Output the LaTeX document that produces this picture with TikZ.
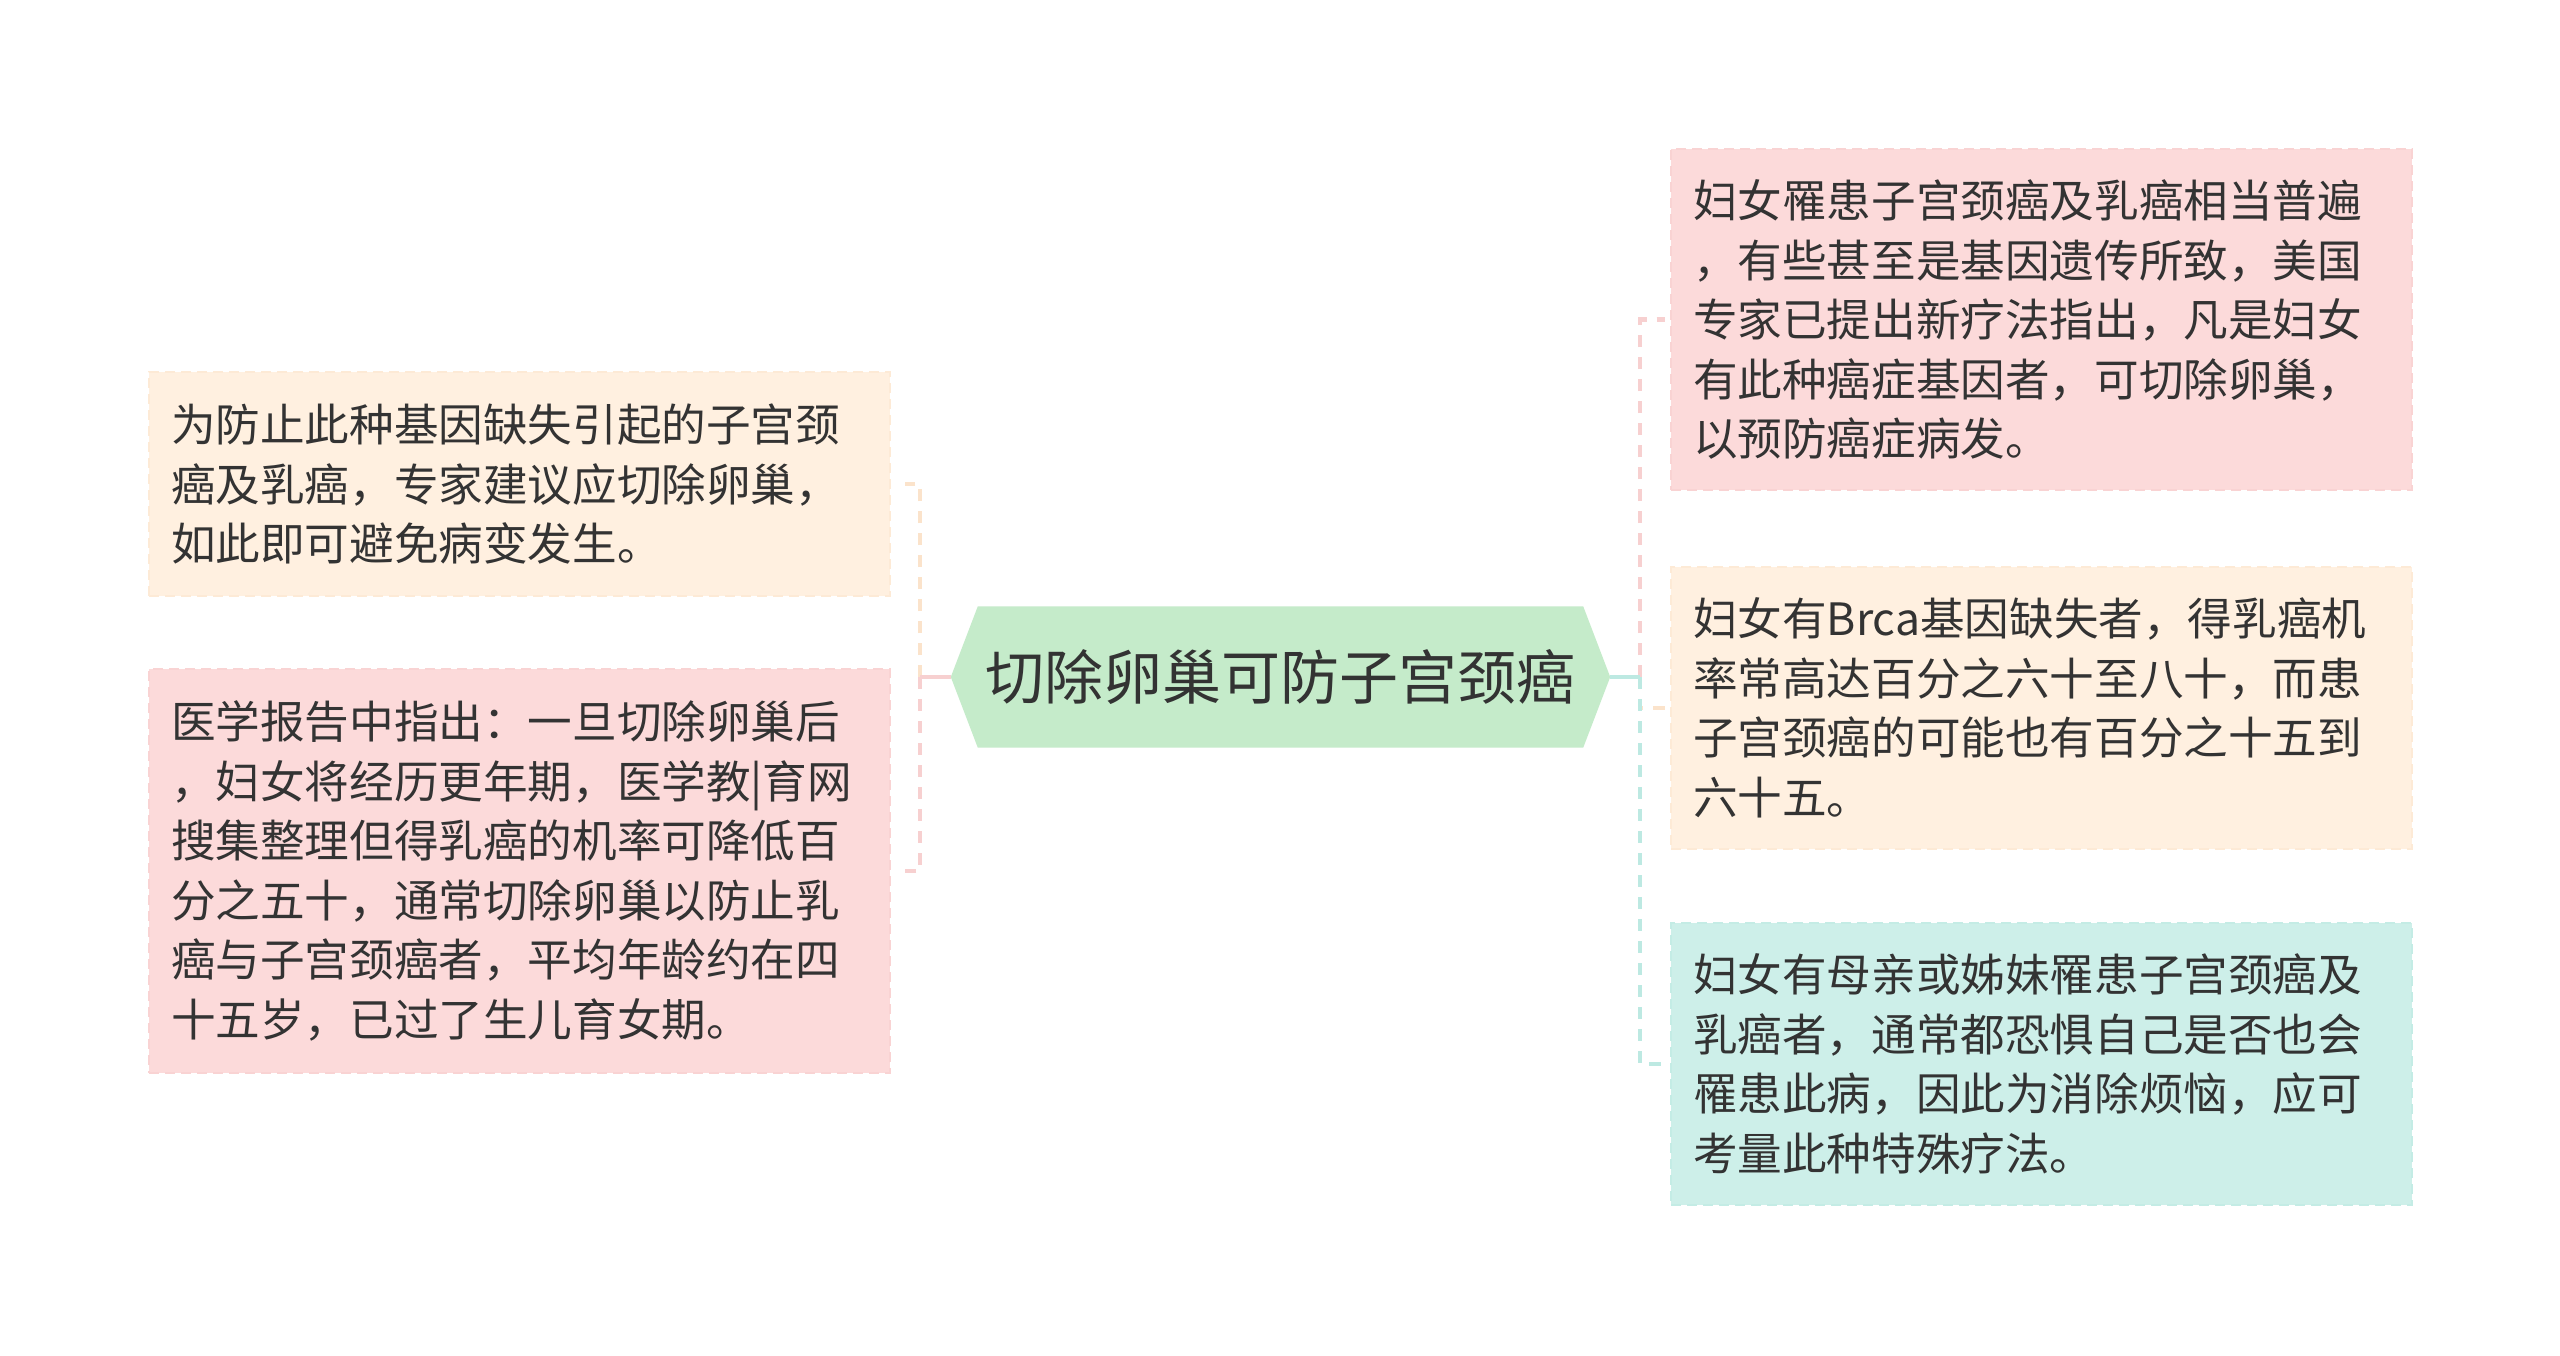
\documentclass[tikz,border=0pt]{standalone}
\usepackage{fontspec}
\setmainfont{Noto Sans CJK SC}
\usetikzlibrary{calc,backgrounds}
\definecolor{txt}{HTML}{333333}
\definecolor{greenfill}{HTML}{C5EBCA}
\definecolor{creamfill}{HTML}{FFF0E0}
\definecolor{creamedge}{HTML}{FDEAD6}
\definecolor{pinkfill}{HTML}{FCDADA}
\definecolor{pinkedge}{HTML}{F9D3D3}
\definecolor{tealfill}{HTML}{CDEFE9}
\definecolor{tealedge}{HTML}{C4ECE5}
\definecolor{creamline}{HTML}{FBE3CB}
\definecolor{pinkline}{HTML}{F7D0D0}
\definecolor{tealline}{HTML}{BDE9E2}
\tikzset{
  leafbox/.style={rectangle, inner xsep=22pt, inner ysep=0pt, text width=697pt,
    minimum width=741pt, align=left, text=txt, line width=2.5pt,
    dash pattern=on 10pt off 6pt,
    font=\fontsize{44.6pt}{59.5pt}\selectfont},
  creambox/.style={leafbox, fill=creamfill, draw=creamedge},
  pinkbox/.style={leafbox, fill=pinkfill, draw=pinkedge},
  tealbox/.style={leafbox, fill=tealfill, draw=tealedge},
  rootnode/.style={rectangle, inner sep=0pt, minimum width=605pt, minimum height=141pt,
    text=txt, font=\fontsize{59pt}{70pt}\selectfont},
  conn/.style={line width=4.5pt},
  dconn/.style={line width=4.5pt, dash pattern=on 12pt off 10pt},
}
\begin{document}
\begin{tikzpicture}[x=1pt,y=-1pt]
\useasboundingbox (0,0) rectangle (2560,1355);

\node[rootnode] (c) at (1280.5,677) {切除卵巢可防子宫颈癌};
\begin{scope}[on background layer]
\fill[white] (0,0) rectangle (2560,1355);
\fill[greenfill] ($(c.west)+(-27,0)$) -- (c.north west) -- (c.north east)
  -- ($(c.east)+(27,0)$) -- (c.south east) -- (c.south west) -- cycle;
\end{scope}
\coordinate (cw) at ($(c.west)+(-27,0)$);
\coordinate (ce) at ($(c.east)+(27,0)$);

\node[creambox, minimum height=224pt] (L1) at (519.5,484)
  {为防止此种基因缺失引起的子宫颈\\癌及乳癌，专家建议应切除卵巢，\\如此即可避免病变发生。};
\node[pinkbox, minimum height=404pt] (L2) at (519.5,871)
  {医学报告中指出：一旦切除卵巢后\\，妇女将经历更年期，医学教|育网\\搜集整理但得乳癌的机率可降低百\\分之五十，通常切除卵巢以防止乳\\癌与子宫颈癌者，平均年龄约在四\\十五岁，已过了生儿育女期。};

\node[pinkbox, minimum height=341pt] (R1) at (2041.5,319.5)
  {妇女罹患子宫颈癌及乳癌相当普遍\\，有些甚至是基因遗传所致，美国\\专家已提出新疗法指出，凡是妇女\\有此种癌症基因者，可切除卵巢，\\以预防癌症病发。};
\node[creambox, minimum height=282pt] (R2) at (2041.5,708)
  {妇女有Brca基因缺失者，得乳癌机\\率常高达百分之六十至八十，而患\\子宫颈癌的可能也有百分之十五到\\六十五。};
\node[tealbox, minimum height=282pt] (R3) at (2041.5,1064)
  {妇女有母亲或姊妹罹患子宫颈癌及\\乳癌者，通常都恐惧自己是否也会\\罹患此病，因此为消除烦恼，应可\\考量此种特殊疗法。};

% left connectors
\coordinate (jl) at (920,677);
\draw[dconn, creamline] (jl) |- ($(L1.east)+(14,0)$);
\draw[dconn, pinkline] (jl) |- ($(L2.east)+(14,0)$);
\draw[conn, pinkline] (cw) -- (jl);

% right connectors
\coordinate (jr) at (1640,677);
\draw[dconn, pinkline] (jr) |- ($(R1.west)+(-5,0)$);
\draw[dconn, creamline] (jr) |- (R2.west);
\draw[dconn, tealline] (jr) |- ($(R3.west)+(-5,0)$);
\draw[conn, tealline] (ce) -- (jr);
\end{tikzpicture}
\end{document}
